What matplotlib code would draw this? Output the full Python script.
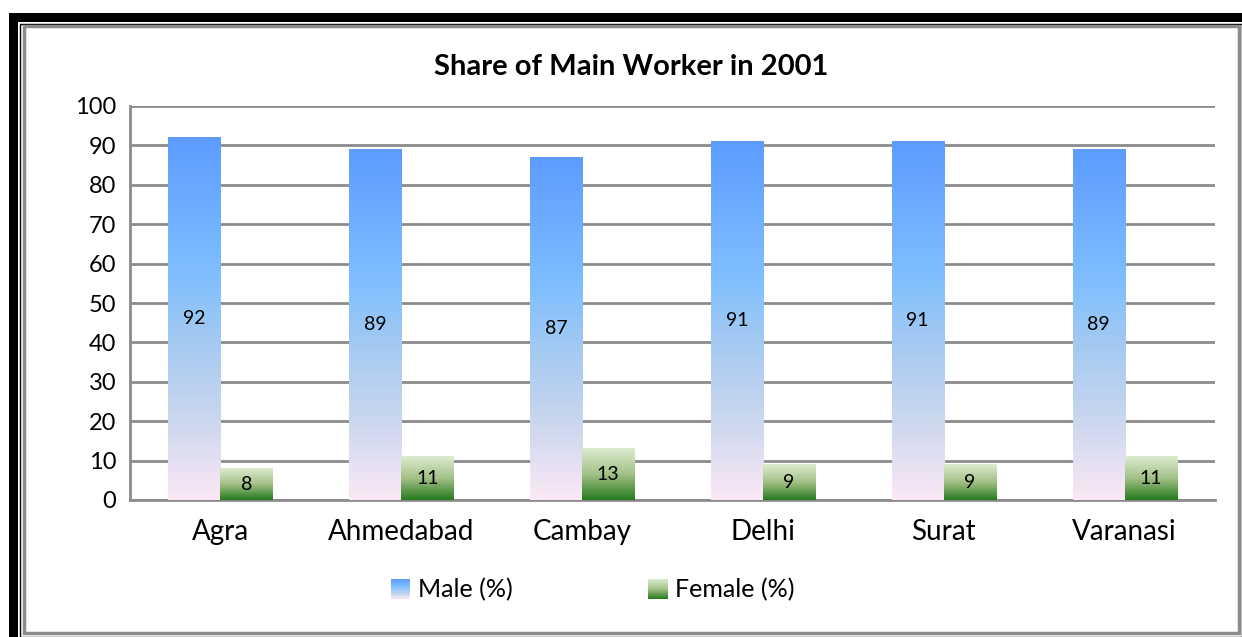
import numpy as np
import matplotlib
matplotlib.use("Agg")
import matplotlib.pyplot as plt
from matplotlib.colors import LinearSegmentedColormap
from matplotlib.patches import Rectangle
from matplotlib.legend_handler import HandlerBase

plt.rcParams['font.family'] = ['Lato', 'DejaVu Sans']

cities = ["Agra", "Ahmedabad", "Cambay", "Delhi", "Surat", "Varanasi"]
male = [92, 89, 87, 91, 91, 89]
female = [8, 11, 13, 9, 9, 11]
series_names = ["Male (%)", "Female (%)"]

# gradients, top -> bottom
male_cmap = LinearSegmentedColormap.from_list(
    "male", [(0, "#5C9CFF"), (0.38, "#7FBFFF"), (0.55, "#A2C9F2"),
             (0.78, "#CBD7EE"), (1, "#FCE8F6")])
female_cmap = LinearSegmentedColormap.from_list(
    "female", [(0, "#DDECD0"), (0.5, "#A3C187"), (1, "#247A1C")])

grad = np.linspace(0, 1, 256).reshape(-1, 1)

fig = plt.figure(figsize=(12.42, 6.37), dpi=100)
W, H = 1242, 637


def px(x0, y0, w, h, **kw):
    # rectangle in pixel coords (origin top-left)
    fig.patches.append(Rectangle((x0 / W, 1 - (y0 + h) / H), w / W, h / H,
                                 transform=fig.transFigure, **kw))


# frame around the chart
px(9, 13, 9, 624, color="black", lw=0)
px(9, 13, 1233, 9, color="black", lw=0)
px(20, 24, 1222, 613, fill=False, ec="black", lw=1)
px(24, 26, 1215, 607, fill=False, ec="#8C8C8C", lw=2.5)

ax = fig.add_axes([130 / W, 137 / H, 1085 / W, 394 / H])
x = np.arange(len(cities))
bw = 0.288

bars_m = ax.bar(x - bw / 2, male, bw, color="none", zorder=3)
bars_f = ax.bar(x + bw / 2, female, bw, color="none", zorder=3)

for bars, cmap in [(bars_m, male_cmap), (bars_f, female_cmap)]:
    for b in bars:
        x0, w, h = b.get_x(), b.get_width(), b.get_height()
        ax.imshow(grad, cmap=cmap, aspect="auto", extent=(x0, x0 + w, 0, h),
                  zorder=3, interpolation="bicubic")

for bars, vals in [(bars_m, male), (bars_f, female)]:
    for b, v in zip(bars, vals):
        ax.text(b.get_x() + b.get_width() / 2, v / 2, str(v),
                ha="center", va="center", fontsize=14, color="black", zorder=4)

ax.set_xlim(-0.5, len(cities) - 0.5)
ax.set_ylim(0, 100)
ax.set_yticks(range(0, 101, 10))
ax.set_xticks(x)
ax.set_xticklabels(cities, fontsize=20)
ax.tick_params(axis="y", labelsize=17, length=0, pad=10)
ax.tick_params(axis="x", length=0, pad=14)
ax.grid(axis="y", color="#8C8C8C", lw=2, zorder=1)
for s in ["top", "right"]:
    ax.spines[s].set_visible(False)
ax.spines["left"].set_color("#8C8C8C")
ax.spines["left"].set_linewidth(2)
ax.spines["bottom"].set_color("#8C8C8C")
ax.spines["bottom"].set_linewidth(2)

fig.text(631 / W, 1 - 67 / H, "Share of Main Worker in 2001", ha="center",
         va="center", fontsize=21, fontweight="bold")


class GradHandler(HandlerBase):
    def __init__(self, cmap):
        super().__init__()
        self.cmap = cmap

    def create_artists(self, legend, orig, xd, yd, width, height, fontsize, trans):
        n = 20
        arts = []
        side = 14
        x0 = xd + width - side
        y0 = yd + (height - side) / 2
        for i in range(n):
            c = self.cmap((i + 0.5) / n)
            r = Rectangle((x0, y0 + side * (n - 1 - i) / n), side, side / n,
                          color=c, lw=0, transform=trans)
            arts.append(r)
        return arts


h_m = Rectangle((0, 0), 1, 1)
h_f = Rectangle((0, 0), 1, 1)
fig.legend([h_m, h_f], series_names, loc="center", bbox_to_anchor=(595 / W, 1 - 590 / H),
           ncol=2, frameon=False, fontsize=18, columnspacing=5.6, handlelength=0.6,
           handletextpad=0.3,
           handler_map={h_m: GradHandler(male_cmap), h_f: GradHandler(female_cmap)})

fig.savefig("out.png", dpi=100)
